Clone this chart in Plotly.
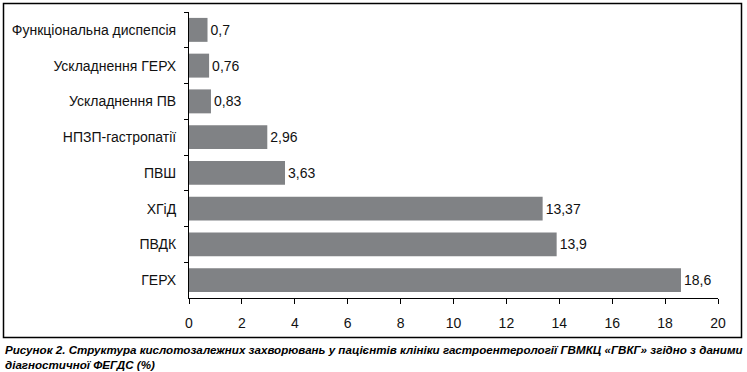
import plotly.graph_objects as go

categories = ["Функціональна диспепсія", "Ускладнення ГЕРХ", "Ускладнення ПВ",
              "НПЗП-гастропатії", "ПВШ", "ХГіД", "ПВДК", "ГЕРХ"]
values = [0.7, 0.76, 0.83, 2.96, 3.63, 13.37, 13.9, 18.6]
tick_vals = [0, 2, 4, 6, 8, 10, 12, 14, 16, 18, 20]
caption = ("Рисунок 2. Структура кислотозалежних захворювань у пацієнтів клініки гастроентерології "
           "ГВМКЦ «ГВКГ» згідно з даними<br>діагностичної ФЕГДС (%)")

labels = [str(v).replace(".", ",") for v in values]

W, H = 747, 372
L, R, T, B = 189, 718, 12, 298
pw, ph = R - L, B - T

def px(x):
    return (x - L) / pw

def py(y):
    return (B - y) / ph

font = "Liberation Sans, Arial, sans-serif"

fig = go.Figure(go.Bar(
    x=values, y=categories, orientation="h",
    marker=dict(color="rgb(128,130,133)", line=dict(width=0)),
    text=labels, textposition="outside", cliponaxis=False,
    textfont=dict(color="#111", size=14, family=font),
    width=0.67,
))

fig.update_layout(
    width=W, height=H,
    margin=dict(l=L, r=W - R, t=T, b=H - B),
    paper_bgcolor="white", plot_bgcolor="white",
    showlegend=False,
    font=dict(family=font, size=14, color="#111"),
    xaxis=dict(range=[0, 20], tickvals=tick_vals, showgrid=False, zeroline=False,
               showline=True, linecolor="black", linewidth=1,
               ticks="outside", ticklen=5, tickcolor="black",
               tickfont=dict(size=14), ticklabelstandoff=7),
    yaxis=dict(autorange="reversed", showgrid=False, zeroline=False,
               showline=True, linecolor="black", linewidth=1,
               ticks="outside", ticklen=4, tickcolor="black", tickson="boundaries",
               tickfont=dict(size=14), ticklabelstandoff=9),
    shapes=[dict(type="rect", xref="paper", yref="paper",
                 x0=px(3.5), x1=px(741.5), y0=py(337.5), y1=py(3.5),
                 line=dict(color="black", width=1.5))],
    annotations=[dict(xref="paper", yref="paper", x=px(3), y=py(341),
                      xanchor="left", yanchor="top", align="left",
                      text="<b><i>" + caption + "</i></b>", showarrow=False,
                      font=dict(size=11.6, family=font, color="#000"))],
)

fig.write_html("out.html", config={"displayModeBar": False},
               post_script="document.body.style.margin='0';document.body.style.padding='0';")
